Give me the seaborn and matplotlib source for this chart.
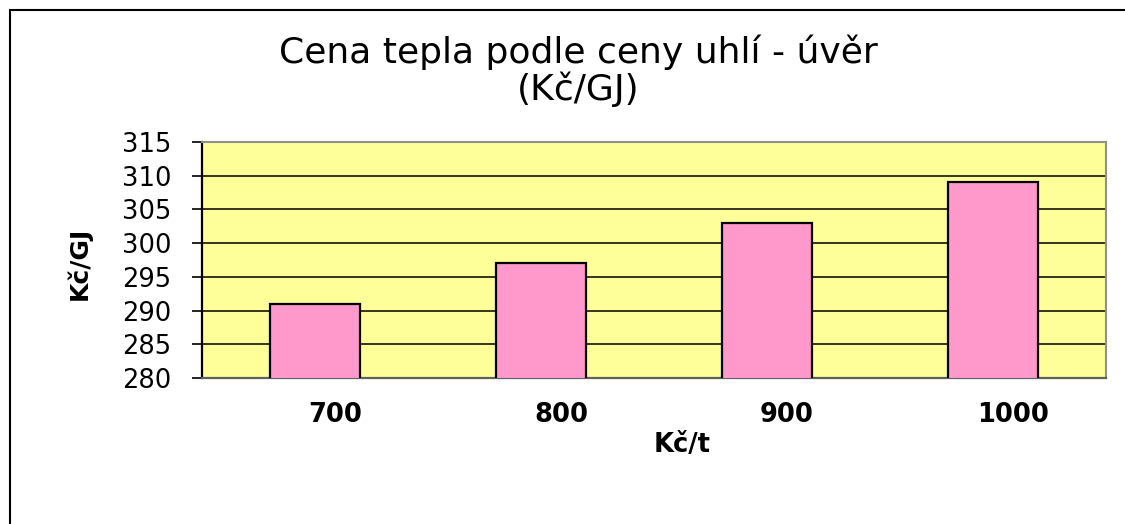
import matplotlib
matplotlib.use("Agg")
import matplotlib.pyplot as plt
import matplotlib.transforms as mtransforms
from matplotlib.patches import Rectangle
import seaborn as sns
import pandas as pd

# Data
coal_prices = ["700", "800", "900", "1000"]
heat_prices = [291, 297, 303, 309]
y_ticks = [280, 285, 290, 295, 300, 305, 310, 315]

title_line1 = "Cena tepla podle ceny uhlí - úvěr"
title_line2 = "(Kč/GJ)"
x_label = "Kč/t"
y_label = "Kč/GJ"

sns.set_theme(style="white")
plt.rcParams["font.family"] = ["DejaVu Sans"]

W, H = 1125, 524
fig = plt.figure(figsize=(W / 100, H / 100), dpi=100)
fig.patch.set_facecolor("white")

# axes placement in pixels
L, R, T, B = 202, 1106, 142, 378
ax = fig.add_axes([L / W, 1 - B / H, (R - L) / W, (B - T) / H])

df = pd.DataFrame({"price": coal_prices, "heat": heat_prices})
sns.barplot(data=df, x="price", y="heat", order=coal_prices, color="#FF99CC",
            width=0.4, edgecolor="black", linewidth=1.6, saturation=1, ax=ax, zorder=3)

ax.set_facecolor("#FFFF99")
ax.set_ylim(280, 315)
ax.set_yticks(y_ticks)
ax.yaxis.grid(True, color="black", linewidth=1.1, zorder=1)
ax.xaxis.grid(False)
ax.set_axisbelow(True)

for s in ["top", "right"]:
    ax.spines[s].set_color("#909090")
    ax.spines[s].set_linewidth(1.5)
ax.spines["bottom"].set_color("#606060")
ax.spines["bottom"].set_linewidth(1.6)
ax.spines["left"].set_color("black")
ax.spines["left"].set_linewidth(1.6)

ax.tick_params(axis="y", direction="out", length=7.2, width=1.2, color="black",
               pad=15, labelsize=18.5, labelcolor="black", left=True)
ax.tick_params(axis="x", length=0, pad=17, labelsize=18.5, labelcolor="black")
for lbl in ax.get_xticklabels():
    lbl.set_fontweight("bold")
    lbl.set_transform(lbl.get_transform() + mtransforms.ScaledTranslation(0.2, 0, fig.dpi_scale_trans))

ax.set_xlabel(x_label, fontsize=18.5, fontweight="bold", color="black")
ax.xaxis.set_label_coords(0.531, -0.228)
ax.xaxis.label.set_va("top")
ax.set_ylabel(y_label, fontsize=18, fontweight="bold", color="black")
ax.yaxis.set_label_coords(-0.136, 0.487)
ax.yaxis.label.set_va("center")

# title
fig.text(578 / W, 1 - 63 / H, title_line1, ha="center", va="baseline", fontsize=26, color="black")
fig.text(578 / W, 1 - 100 / H, title_line2, ha="center", va="baseline", fontsize=26, color="black")

# chart area border (top and left visible)
fig.add_artist(Rectangle((9.5 / W, -0.2), 1.2, 1.2 - 9.5 / H, transform=fig.transFigure,
                         fill=False, edgecolor="black", linewidth=1.5))

fig.savefig("out.png", dpi=100, facecolor="white")
